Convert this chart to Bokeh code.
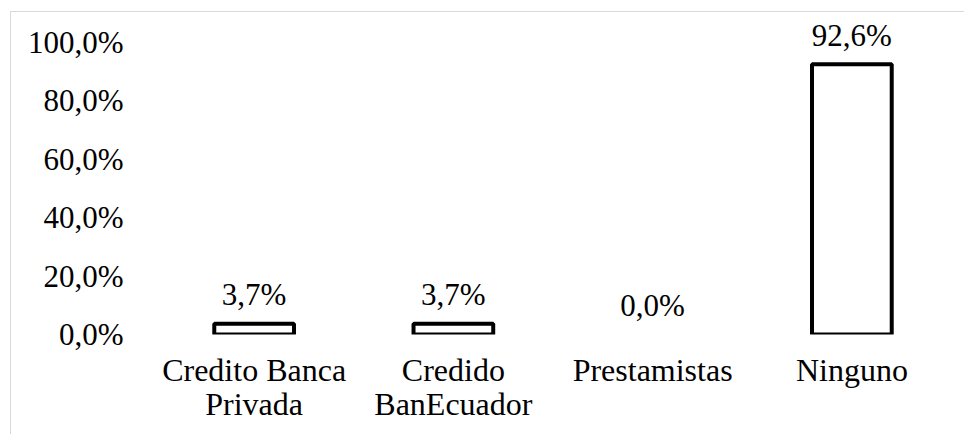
from bokeh.plotting import figure
from bokeh.models import ColumnDataSource, FixedTicker, Range1d
from bokeh.core.properties import value
from bokeh.embed import file_html
from bokeh.resources import INLINE

categories = ["Credito Banca\nPrivada", "Credido\nBanEcuador", "Prestamistas", "Ninguno"]
values = [3.7, 3.7, 0.0, 92.6]
value_labels = ["3,7%", "3,7%", "0,0%", "92,6%"]
y_ticks = [0, 20, 40, 60, 80, 100]
y_tick_labels = ["0,0%", "20,0%", "40,0%", "60,0%", "80,0%", "100,0%"]

FONT = "Liberation Serif"

# a bar of height zero draws no outline
outline = ["black" if v > 0 else None for v in values]
src = ColumnDataSource(dict(cat=categories, val=values, lab=value_labels, lc=outline))

p = figure(x_range=categories, y_range=Range1d(0, 107.2),
           width=954, height=423, output_backend="svg", toolbar_location=None,
           min_border_left=143, min_border_right=14, min_border_top=9,
           min_border_bottom=101)
p.styles = {"margin-left": "10px", "margin-top": "11px",
            "border-top": "1px solid #d9d9d9", "border-left": "1px solid #d9d9d9"}

p.vbar(x="cat", top="val", bottom=0, width=0.4, source=src,
       fill_color="white", line_color="lc", line_width=4)
p.text(x="cat", y="val", text="lab", source=src, text_align="center",
       text_baseline="alphabetic", y_offset=-29,
       text_font=value(FONT), text_font_size="31px", text_color="black")

p.outline_line_color = None
p.xgrid.grid_line_color = None
p.ygrid.grid_line_color = None

p.yaxis.ticker = FixedTicker(ticks=y_ticks)
p.yaxis.major_label_overrides = {t: l for t, l in zip(y_ticks, y_tick_labels)}
for ax in (p.xaxis[0], p.yaxis[0]):
    ax.axis_line_color = None
    ax.major_tick_line_color = None
    ax.minor_tick_line_color = None
    ax.major_tick_out = 0
    ax.major_tick_in = 0
    ax.major_label_text_font = FONT
    ax.major_label_text_color = "black"
p.yaxis.major_label_text_font_size = "31px"
p.xaxis.major_label_text_font_size = "32px"
p.yaxis.major_label_standoff = 31
p.xaxis.major_label_standoff = 17
p.xaxis.major_label_text_line_height = 0.95

open("out.html", "w").write(file_html(p, INLINE))
